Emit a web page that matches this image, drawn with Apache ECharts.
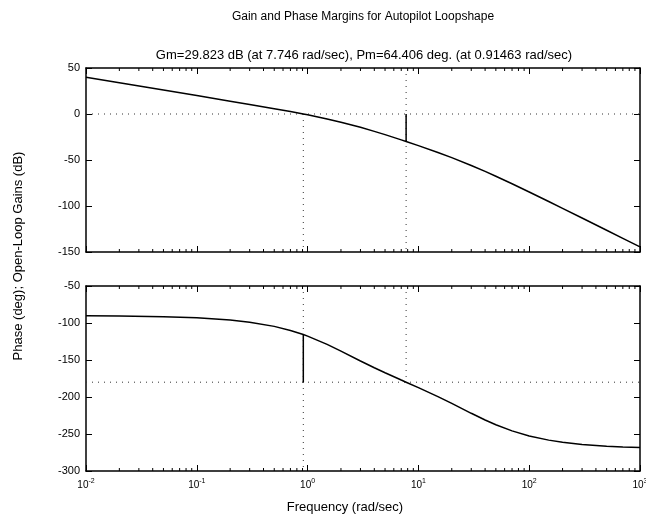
<!DOCTYPE html>
<html>
<head>
<meta charset="utf-8">
<script src="https://cdn.jsdelivr.net/npm/echarts@6/dist/echarts.min.js"></script>
<style>
  html, body { margin: 0; padding: 0; background: #fff; }
  #chart { width: 646px; height: 525px; }
</style>
</head>
<body>
<div id="chart"></div>
<script>
// Open-loop frequency response (rad/sec) with gain (dB) and phase (deg)
const freq = [0.01, 0.02, 0.05, 0.1, 0.2, 0.3, 0.5, 0.7, 0.91463, 1, 1.5, 2, 3, 4, 5, 7, 7.746,
              10, 15, 20, 30, 40, 50, 70, 100, 150, 200, 300, 500, 700, 1000];
const gainDb = [40.0, 33.98, 26.02, 19.99, 13.94, 10.37, 5.77, 2.63, 0, -0.92, -5.37, -8.91, -14.50,
                -18.87, -22.45, -28.09, -29.823, -34.35, -41.83, -47.46, -55.94, -62.40, -67.64,
                -75.83, -84.78, -95.15, -102.58, -113.09, -126.39, -135.14, -144.44];
const phaseDeg = [-90.3, -90.59, -91.48, -92.96, -95.91, -98.84, -104.57, -110.06, -115.594, -117.77,
                  -128.89, -137.97, -151.30, -160.49, -167.29, -177.10, -180, -187.34, -199.49,
                  -208.68, -222.02, -231.10, -237.52, -245.81, -252.64, -258.27, -261.16, -264.08,
                  -266.44, -267.46, -268.22];

// Stability margins
const gainMarginDb = 29.823;
const gainCrossFreq = 7.746;      // phase crossover (rad/sec)
const phaseMarginDeg = 64.406;
const phaseCrossFreq = 0.91463;   // gain crossover (rad/sec)

// Axis ranges and ticks
const freqMin = 0.01, freqMax = 1000;
const gainTicks = [-150, -100, -50, 0, 50];
const phaseTicks = [-300, -250, -200, -150, -100, -50];
const decadeExps = [-2, -1, 0, 1, 2];
const minorMults = [2, 3, 4, 5, 6, 7, 8, 9];

const gainMin = gainTicks[0], gainMax = gainTicks[gainTicks.length - 1];
const phaseMin = phaseTicks[0], phaseMax = phaseTicks[phaseTicks.length - 1];

const minorFreqs = [];
decadeExps.forEach(e => minorMults.forEach(m => minorFreqs.push(m * Math.pow(10, e))));

const FONT = '"Liberation Sans", Arial, Helvetica, sans-serif';
const DOT = [1, 5];

function pairs(xs, ys) { return xs.map((x, i) => [x, ys[i]]); }

function logX(gridIndex, position, withLabels) {
  return {
    type: 'log', logBase: 10, gridIndex, position, min: freqMin, max: freqMax,
    axisLine: { show: true, onZero: false, lineStyle: { color: '#000', width: 1.5 } },
    axisTick: { show: true, inside: true, length: 6, lineStyle: { color: '#000', width: 1 } },
    splitLine: { show: false },
    axisLabel: withLabels ? {
      show: true, margin: 7, color: '#000', fontFamily: FONT, fontSize: 10,
      formatter: v => '10{s|' + Math.round(Math.log10(v)) + '}',
      rich: { s: { fontSize: 7, verticalAlign: 'top', padding: [0, 0, 7, 0], fontFamily: FONT, color: '#000' } }
    } : { show: false }
  };
}

function linY(gridIndex, position, lo, hi, withLabels) {
  return {
    type: 'value', gridIndex, position, min: lo, max: hi, interval: 50,
    axisLine: { show: true, onZero: false, lineStyle: { color: '#000', width: 1.5 } },
    axisTick: { show: true, inside: true, length: 6, lineStyle: { color: '#000', width: 1 } },
    splitLine: { show: false },
    axisLabel: withLabels ? {
      show: true, margin: 6, color: '#000', fontFamily: FONT, fontSize: 11,
      formatter: v => String(v)
    } : { show: false }
  };
}

function refLine(xi, yi, data) {
  return {
    type: 'line', xAxisIndex: xi, yAxisIndex: yi, data, showSymbol: false, silent: true,
    lineStyle: { color: '#333', width: 1, type: DOT }, z: 1
  };
}

function solidLine(xi, yi, data) {
  return {
    type: 'line', xAxisIndex: xi, yAxisIndex: yi, data, showSymbol: false, silent: true,
    lineStyle: { color: '#000', width: 1.5 }, z: 3
  };
}

function minorTicks(xi, yi, lo, hi) {
  return {
    type: 'custom', xAxisIndex: xi, yAxisIndex: yi, silent: true, z: 4,
    data: minorFreqs.map(f => [f, lo]),
    renderItem: (params, api) => {
      const f = api.value(0);
      const b = api.coord([f, lo]);
      const t = api.coord([f, hi]);
      const st = { stroke: '#000', lineWidth: 1 };
      return {
        type: 'group', children: [
          { type: 'line', shape: { x1: b[0], y1: b[1], x2: b[0], y2: b[1] - 3 }, style: st },
          { type: 'line', shape: { x1: t[0], y1: t[1], x2: t[0], y2: t[1] + 3 }, style: st }
        ]
      };
    }
  };
}

const chart = echarts.init(document.getElementById('chart'), null, { renderer: 'canvas' });

chart.setOption({
  animation: false,
  backgroundColor: '#fff',
  grid: [
    { left: 86, top: 68, width: 554, height: 184, outerBoundsMode: 'none', containLabel: false },
    { left: 86, top: 286, width: 554, height: 185, outerBoundsMode: 'none', containLabel: false }
  ],
  xAxis: [
    logX(0, 'bottom', false),
    logX(0, 'top', false),
    logX(1, 'bottom', true),
    logX(1, 'top', false)
  ],
  yAxis: [
    linY(0, 'left', gainMin, gainMax, true),
    linY(0, 'right', gainMin, gainMax, false),
    linY(1, 'left', phaseMin, phaseMax, true),
    linY(1, 'right', phaseMin, phaseMax, false)
  ],
  series: [
    // gain plot
    refLine(0, 0, [[freqMin, 0], [freqMax, 0]]),
    refLine(0, 0, [[gainCrossFreq, gainMax], [gainCrossFreq, gainMin]]),
    refLine(0, 0, [[phaseCrossFreq, 0], [phaseCrossFreq, gainMin]]),
    solidLine(0, 0, [[gainCrossFreq, 0], [gainCrossFreq, -gainMarginDb]]),
    {
      type: 'line', xAxisIndex: 0, yAxisIndex: 0, data: pairs(freq, gainDb),
      showSymbol: false, lineStyle: { color: '#000', width: 1.5 }, z: 3
    },
    minorTicks(0, 0, gainMin, gainMax),
    // phase plot
    refLine(2, 2, [[freqMin, -180], [freqMax, -180]]),
    refLine(2, 2, [[phaseCrossFreq, phaseMax], [phaseCrossFreq, phaseMin]]),
    refLine(2, 2, [[gainCrossFreq, phaseMax], [gainCrossFreq, -180]]),
    solidLine(2, 2, [[phaseCrossFreq, -180], [phaseCrossFreq, -180 + phaseMarginDeg]]),
    {
      type: 'line', xAxisIndex: 2, yAxisIndex: 2, data: pairs(freq, phaseDeg),
      showSymbol: false, lineStyle: { color: '#000', width: 1.5 }, z: 3
    },
    minorTicks(2, 2, phaseMin, phaseMax)
  ],
  graphic: [
    {
      type: 'text', x: 363, y: 17,
      style: { text: 'Gain and Phase Margins for Autopilot Loopshape', fill: '#000',
               font: '12px ' + FONT, textAlign: 'center', textVerticalAlign: 'middle' }
    },
    {
      type: 'text', x: 364, y: 55,
      style: { text: 'Gm=29.823 dB (at 7.746 rad/sec), Pm=64.406 deg. (at 0.91463 rad/sec)', fill: '#000',
               font: '13px ' + FONT, textAlign: 'center', textVerticalAlign: 'middle' }
    },
    {
      type: 'text', x: 345, y: 507,
      style: { text: 'Frequency (rad/sec)', fill: '#000',
               font: '13px ' + FONT, textAlign: 'center', textVerticalAlign: 'middle' }
    },
    {
      type: 'text', x: 18, y: 256, rotation: Math.PI / 2,
      style: { text: 'Phase (deg); Open-Loop Gains (dB)', fill: '#000',
               font: '13px ' + FONT, textAlign: 'center', textVerticalAlign: 'middle' }
    }
  ]
});
</script>
</body>
</html>
